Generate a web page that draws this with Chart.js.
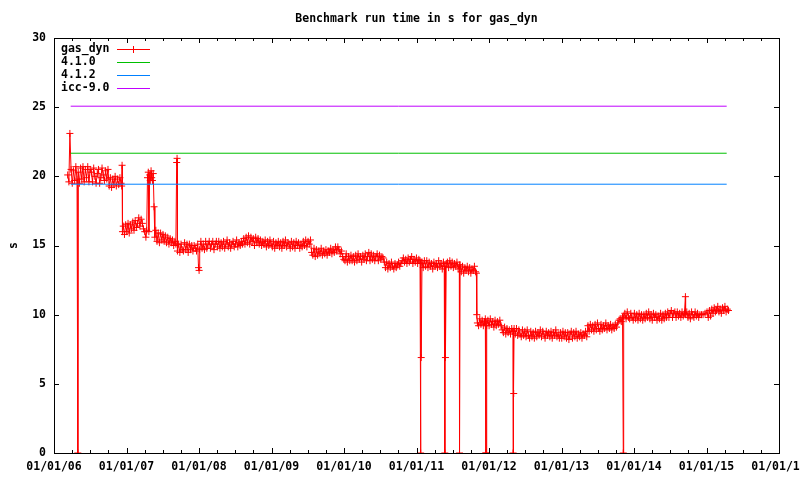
<!DOCTYPE html>
<html><head><meta charset="utf-8">
<script src="https://cdn.jsdelivr.net/npm/chart.js@4/dist/chart.umd.min.js"></script>
<style>html,body{margin:0;padding:0;background:#fff}canvas{display:block}</style>
</head><body>
<canvas id="c" width="800" height="480"></canvas>
<script>
const titleText = 'Benchmark run time in s for gas_dyn';
const yAxisTitle = 's';
const seriesNames = ['gas_dyn', '4.1.0', '4.1.2', 'icc-9.0'];

// gas_dyn runs: day number counted from 01/01/06, and run time in s
const runDay = [
 69,75,80,86,92,98,104,110,116,120,
 122,128,134,140,146,152,158,164,170,176,
 182,188,194,200,206,212,218,224,230,236,
 242,248,254,260,266,272,278,284,290,296,
 302,308,314,320,326,332,338,341,343,345,
 349,355,361,367,373,379,385,391,397,403,
 409,415,421,427,433,439,445,451,457,463,
 467,471,475,478,482,485,489,492,496,500,
 504,508,513,519,525,531,537,543,549,555,
 561,567,573,579,585,591,597,603,609,614,
 618,620,622,628,634,640,646,652,658,664,
 670,676,682,688,694,700,706,712,718,724,
 728,731,734,740,746,752,758,764,770,776,
 782,788,794,800,806,812,818,824,830,836,
 842,848,854,860,866,872,878,884,890,896,
 902,908,914,920,926,932,938,944,950,956,
 962,968,974,980,986,992,998,1004,1010,1016,
 1022,1028,1034,1040,1046,1052,1058,1064,1070,1076,
 1082,1088,1094,1100,1106,1112,1118,1124,1130,1136,
 1142,1148,1154,1160,1166,1172,1178,1184,1190,1196,
 1202,1208,1214,1220,1226,1232,1238,1244,1250,1256,
 1262,1268,1274,1280,1286,1292,1298,1304,1310,1316,
 1322,1328,1334,1340,1346,1352,1358,1364,1370,1376,
 1382,1388,1394,1400,1406,1412,1418,1424,1430,1436,
 1442,1448,1454,1460,1466,1472,1478,1484,1490,1496,
 1502,1508,1514,1520,1526,1532,1538,1544,1550,1556,
 1562,1568,1574,1580,1586,1592,1598,1604,1610,1616,
 1622,1628,1634,1640,1646,1652,1658,1664,1670,1676,
 1682,1688,1694,1700,1706,1712,1718,1724,1730,1736,
 1742,1748,1754,1760,1766,1772,1778,1784,1790,1796,
 1802,1808,1814,1820,1826,1832,1838,1844,1847,1848,
 1850,1854,1860,1866,1872,1878,1884,1890,1896,1902,
 1908,1914,1920,1926,1932,1938,1944,1950,1956,1962,
 1966,1969,1970,1972,1976,1982,1988,1994,2000,2006,
 2012,2018,2024,2030,2036,2042,2043,2046,2052,2058,
 2064,2070,2076,2082,2088,2094,2100,2106,2112,2118,
 2124,2128,2130,2133,2139,2145,2151,2157,2163,2169,
 2173,2175,2176,2177,2180,2186,2192,2198,2204,2210,
 2216,2222,2228,2234,2240,2246,2252,2258,2264,2270,
 2276,2282,2288,2294,2300,2306,2312,2313,2314,2316,
 2318,2324,2330,2336,2342,2348,2354,2360,2366,2372,
 2378,2384,2390,2396,2402,2408,2414,2420,2426,2432,
 2438,2444,2450,2456,2462,2468,2474,2480,2486,2492,
 2498,2504,2510,2516,2522,2528,2534,2540,2546,2552,
 2558,2564,2570,2576,2582,2588,2594,2600,2606,2612,
 2618,2624,2630,2636,2642,2648,2654,2660,2666,2672,
 2678,2684,2690,2696,2702,2708,2714,2720,2726,2732,
 2738,2744,2750,2756,2762,2768,2774,2780,2786,2792,
 2798,2804,2810,2816,2822,2828,2834,2840,2846,2852,
 2858,2864,2868,2870,2876,2882,2888,2894,2900,2906,
 2912,2918,2924,2930,2936,2942,2948,2954,2960,2966,
 2972,2978,2984,2990,2996,3002,3008,3014,3020,3026,
 3032,3038,3044,3050,3056,3062,3068,3074,3080,3086,
 3092,3098,3104,3110,3116,3122,3128,3134,3140,3146,
 3152,3158,3164,3170,3176,3181,3182,3188,3194,3200,
 3206,3212,3218,3224,3230,3236,3242,3248,3254,3262,
 3270,3280,3290,3296,3302,3308,3314,3320,3326,3332,
 3338,3344,3350,3356,3362,3368,3374,3380,3386,3392,
 3398
];
const runTime = [
 20.1,19.6,23.1,20.5,19.5,20.4,19.7,20.7,19.8,0,
 20.3,19.5,20.6,19.8,20.7,19.6,20.5,19.9,20.7,19.6,
 20.5,20.3,19.6,20.6,20.0,19.5,20.2,20.5,19.5,19.9,
 20.6,20.1,19.7,20.4,19.8,20.5,19.3,19.9,19.2,19.8,
 19.4,20.0,19.3,19.8,19.4,19.9,19.5,19.3,20.8,16.0,
 16.4,15.8,16.5,16.0,16.6,15.9,16.5,16.2,16.7,16.1,
 16.8,16.3,16.6,17.0,16.4,16.9,16.6,16.2,16.0,15.6,
 16.1,19.9,20.3,16.0,20.1,19.7,20.4,19.9,19.7,20.2,
 17.8,15.6,16.1,15.3,15.9,15.2,15.9,15.4,15.8,15.3,
 15.7,15.2,15.6,15.1,15.5,15.2,15.4,15.0,15.3,15.1,
 21.0,21.3,14.6,15.1,14.5,15.1,14.7,14.6,15.2,14.7,
 15.1,14.5,15.1,14.7,15.0,14.6,15.0,14.8,14.6,15.1,
 13.4,13.2,14.7,15.3,14.8,15.1,14.7,15.3,14.8,15.1,
 15.3,14.8,15.1,15.3,14.7,15.1,15.3,14.9,15.3,14.8,
 15.2,14.9,15.3,14.8,15.1,15.4,14.9,15.2,14.8,15.1,
 15.3,14.9,15.1,15.4,14.9,15.2,15.0,15.3,15.1,15.5,
 15.1,15.6,15.2,15.7,15.1,15.6,15.3,15.5,15.0,15.6,
 15.2,15.5,15.1,15.4,15.0,15.3,15.1,15.4,14.9,15.3,
 15.0,15.4,15.1,14.9,15.3,14.8,15.2,15.0,15.3,14.9,
 15.2,14.8,15.3,15.0,15.4,14.9,15.2,15.1,14.8,15.3,
 14.9,15.2,14.8,15.3,15.0,15.2,14.8,15.1,14.9,15.3,
 15.0,15.4,14.9,15.3,15.1,15.4,14.5,14.3,14.8,14.2,
 14.7,14.3,14.6,14.4,14.8,14.3,14.6,14.4,14.7,14.3,
 14.6,14.5,14.8,14.4,14.7,14.5,14.9,14.6,14.9,14.7,
 14.4,14.6,14.2,14.0,13.9,14.4,13.8,14.2,13.9,14.3,
 13.9,14.2,13.8,14.3,13.9,14.4,14.0,14.2,13.8,14.3,
 14.0,14.4,13.9,14.2,14.5,13.9,14.4,14.0,14.3,13.9,
 14.2,14.4,13.9,14.3,14.0,14.2,14.1,13.8,13.4,13.8,
 13.3,13.7,13.4,13.8,13.5,13.3,13.7,13.4,13.6,13.8,
 13.5,13.7,13.9,14.1,13.8,14.0,13.7,14.1,13.8,14.0,
 14.2,13.7,14.0,13.8,14.1,13.7,14.0,13.9,0,13.7,
 6.9,13.8,13.4,13.9,13.5,13.9,13.4,13.8,13.5,13.7,
 13.3,13.8,13.5,13.7,13.4,13.9,13.5,13.7,13.3,13.8,
 13.5,0,13.5,6.9,13.7,13.8,13.4,13.9,13.5,13.8,
 13.4,13.7,13.5,13.8,13.3,13.6,0,13.6,13.1,13.5,
 13.0,13.4,13.2,13.5,13.1,13.4,13.0,13.3,13.2,13.5,
 13.1,13.0,10.0,9.4,9.2,9.7,9.3,9.6,9.2,9.5,
 9.7,0,9.4,0,9.2,9.6,9.2,9.7,9.3,9.5,
 9.1,9.6,9.2,9.5,9.3,9.6,9.2,8.9,8.7,9.1,
 8.6,9.0,8.7,8.9,8.6,9.0,8.8,0,8.8,4.3,
 9.0,8.6,9.0,8.5,8.9,8.6,8.4,8.9,8.5,8.8,
 8.4,8.9,8.5,8.3,8.8,8.4,8.7,8.3,8.8,8.4,
 8.7,8.5,8.9,8.4,8.8,8.6,8.3,8.8,8.5,8.7,
 8.4,8.8,8.3,8.7,8.5,8.9,8.4,8.6,8.3,8.7,
 8.3,8.8,8.4,8.7,8.3,8.7,8.2,8.6,8.8,8.3,
 8.7,8.4,8.8,8.3,8.6,8.4,8.7,8.3,8.6,8.5,
 8.8,8.4,9.2,8.8,9.3,8.9,9.2,8.8,9.3,8.9,
 9.4,9.0,8.8,9.3,8.9,9.2,9.0,9.4,8.9,9.2,
 9.0,9.3,8.9,9.2,9.0,9.3,9.1,9.4,9.6,9.7,
 9.5,9.8,0,9.9,10.1,9.7,10.2,9.8,9.7,10.1,
 9.8,9.6,10.1,9.7,10.0,9.6,10.1,9.7,10.0,9.6,
 10.0,9.7,10.1,9.8,10.2,9.7,10.0,9.6,10.1,9.8,
 10.0,9.6,9.9,9.7,10.1,9.6,10.0,9.7,10.1,9.8,
 10.2,9.8,10.1,10.3,9.8,10.1,10.2,9.8,10.2,9.9,
 10.1,9.8,10.2,9.9,10.1,11.3,10.0,10.2,9.8,10.1,
 9.7,10.2,10.0,9.8,10.2,9.9,10.1,9.8,10.0,10.0,
 10.0,10.1,10.2,9.8,10.3,9.9,10.4,10.1,10.5,10.2,
 10.3,10.6,10.2,10.4,10.1,10.5,10.3,10.6,10.2,10.4,
 10.3
];
// reference compiler run times (s), drawn over the span of the runs (day numbers)
const refSpanDay = [84, 3389];
const ref410 = [21.67, 21.67];
const ref412 = [19.43, 19.43];
const refIcc = [25.07, 25.07];

const startYear = 2006;
const xRange = [2006, 2016];
const yRange = [0, 30];

const FONT_FAMILY = '"DejaVu Sans Mono", "Liberation Mono", monospace';
const FONT_SIZE = 11.5;
const FONT = 'bold ' + FONT_SIZE + 'px ' + FONT_FAMILY;
const COLORS = ['#ff0000', '#00c000', '#0080ff', '#c000ff'];

const toYear = d => startYear + d / 365.25;
const pts = (days, ys) => days.map((d, i) => ({x: toYear(d), y: ys[i]}));

const frame = {
  id: 'gnuplotFrame',
  afterDatasetsDraw(chart) {
    const {ctx, chartArea: a, scales: {x, y}} = chart;
    ctx.save();
    ctx.strokeStyle = '#000';
    ctx.lineWidth = 1;
    ctx.beginPath();
    x.ticks.forEach(t => {
      const px = Math.round(x.getPixelForValue(t.value)) + 0.5;
      const major = Math.abs(t.value - Math.round(t.value)) < 1e-6;
      const len = major ? 5 : 3;
      ctx.moveTo(px, a.bottom); ctx.lineTo(px, a.bottom - len);
      ctx.moveTo(px, a.top); ctx.lineTo(px, a.top + len);
    });
    y.ticks.forEach(t => {
      const py = Math.round(y.getPixelForValue(t.value)) + 0.5;
      ctx.moveTo(a.left, py); ctx.lineTo(a.left + 5, py);
      ctx.moveTo(a.right, py); ctx.lineTo(a.right - 5, py);
    });
    ctx.stroke();
    ctx.strokeRect(a.left + 0.5, a.top + 0.5, a.right - a.left, a.bottom - a.top);

    // title
    ctx.fillStyle = '#000';
    ctx.font = FONT;
    ctx.textAlign = 'center';
    ctx.textBaseline = 'middle';
    ctx.fillText(titleText, (a.left + a.right) / 2, 19);

    // key
    ctx.textAlign = 'left';
    seriesNames.forEach((name, i) => {
      const ry = a.top + 11 + i * 13;
      ctx.fillStyle = '#000';
      ctx.fillText(name, a.left + 7, ry);
      const ly = Math.round(ry);
      ctx.fillStyle = COLORS[i];
      ctx.fillRect(a.left + 63, ly, 33, 1);
      if (i === 0) ctx.fillRect(a.left + 79, ly - 3, 1, 7);
    });
    ctx.restore();
  }
};

new Chart(document.getElementById('c'), {
  type: 'line',
  data: {
    datasets: [
      {label: seriesNames[0], data: pts(runDay, runTime), borderColor: COLORS[0],
       backgroundColor: COLORS[0], borderWidth: 1, pointStyle: 'cross', pointRadius: 3.5,
       pointBorderWidth: 1, pointBorderColor: COLORS[0], order: 1},
      {label: seriesNames[1], data: pts(refSpanDay, ref410), borderColor: COLORS[1], borderWidth: 1, pointRadius: 0, order: 0},
      {label: seriesNames[2], data: pts(refSpanDay, ref412), borderColor: COLORS[2], borderWidth: 1, pointRadius: 0, order: 0},
      {label: seriesNames[3], data: pts(refSpanDay, refIcc), borderColor: COLORS[3], borderWidth: 1, pointRadius: 0, order: 0}
    ]
  },
  options: {
    responsive: false,
    animation: false,
    devicePixelRatio: 1,
    layout: {padding: {top: 38, right: 21, left: 0, bottom: 0}},
    plugins: {legend: {display: false}, title: {display: false}, tooltip: {enabled: false}},
    elements: {line: {tension: 0}},
    scales: {
      x: {
        type: 'linear', min: xRange[0], max: xRange[1],
        grid: {display: false, drawTicks: false},
        border: {display: false},
        ticks: {
          stepSize: 0.25, autoSkip: false, maxRotation: 0, minRotation: 0, padding: 7,
          color: '#000', font: {family: FONT_FAMILY, size: FONT_SIZE, weight: 'bold'},
          callback: v => Math.abs(v - Math.round(v)) < 1e-6
            ? '01/01/' + String(Math.round(v) % 100).padStart(2, '0') : ''
        },
        afterFit: s => { s.height = 27; s.paddingLeft = 0; s.paddingRight = 0; }
      },
      y: {
        min: yRange[0], max: yRange[1],
        grid: {display: false, drawTicks: false},
        border: {display: false},
        ticks: {stepSize: 5, padding: 8, color: '#000',
          font: {family: FONT_FAMILY, size: FONT_SIZE, weight: 'bold'}},
        title: {display: true, text: yAxisTitle, color: '#000', padding: {top: 7, bottom: 0},
          font: {family: FONT_FAMILY, size: FONT_SIZE, weight: 'bold'}},
        afterFit: s => { s.width = 54; s.paddingTop = 0; s.paddingBottom = 0; }
      }
    }
  },
  plugins: [frame]
});
</script>
</body></html>
